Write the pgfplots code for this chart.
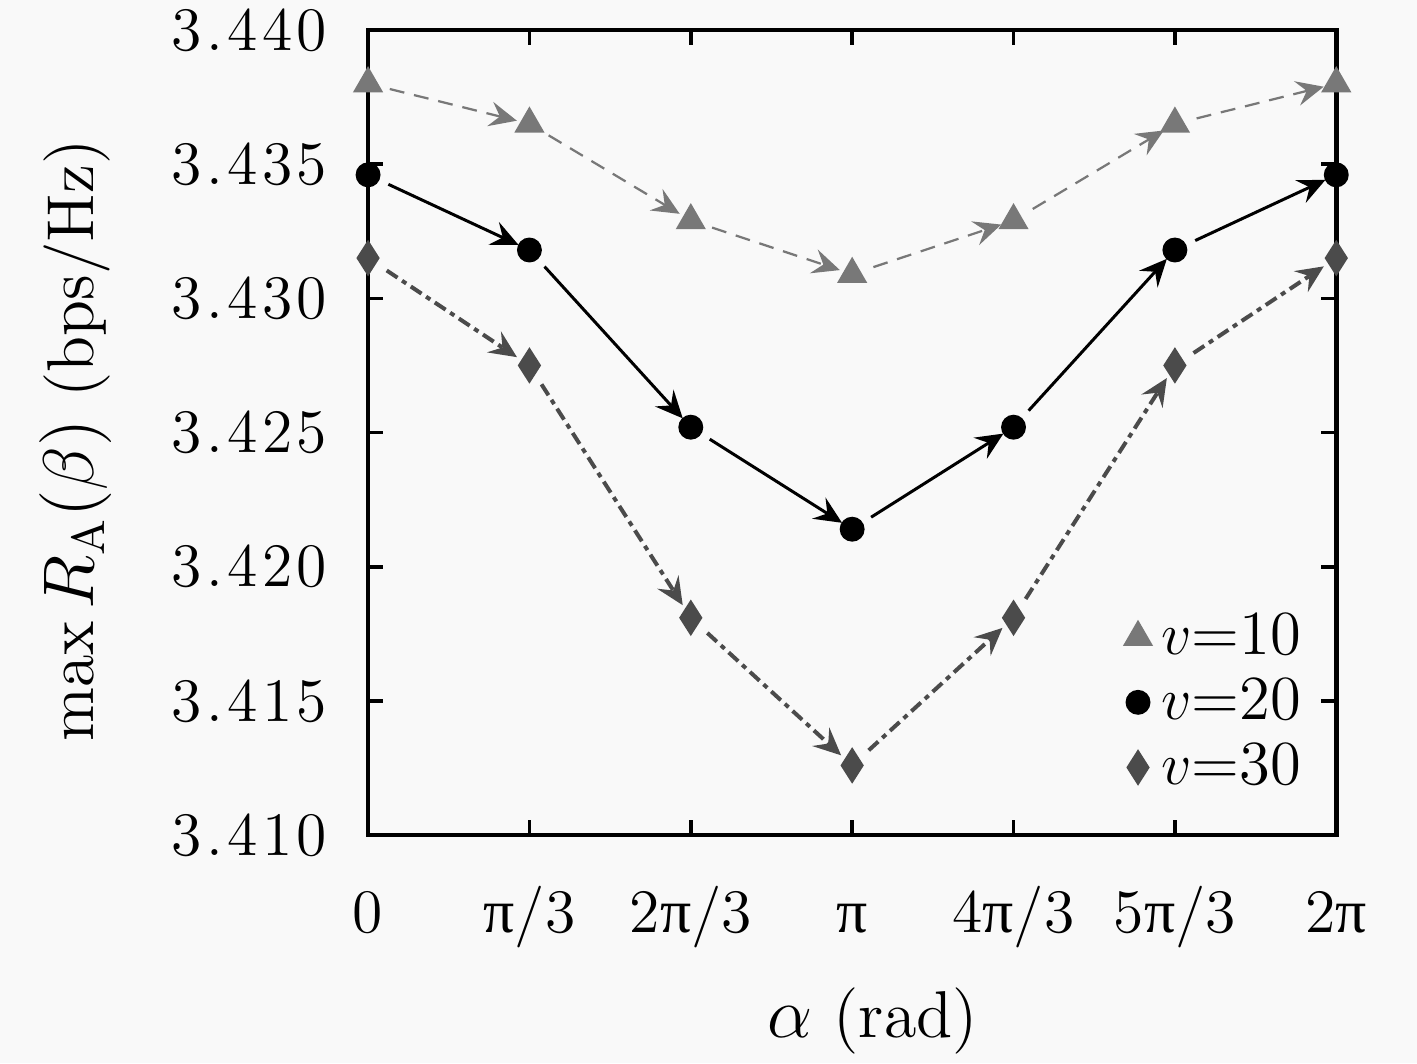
\documentclass[border=0pt]{standalone}
\usepackage{fontspec}
\usepackage{pgfplots}
\pgfplotsset{compat=1.18}
\usepackage{pgfplotstable}
\usetikzlibrary{arrows.meta}
\newfontfamily\pifont{Liberation Serif}
\newfontfamily\spaced[LetterSpace=7]{Latin Modern Roman}
\newcommand{\p}{{\pifont π}}
\definecolor{bg}{RGB}{249,249,249}
\definecolor{cA}{RGB}{120,120,120}
\definecolor{cB}{RGB}{0,0,0}
\definecolor{cC}{RGB}{75,75,75}

\pgfplotstableread{
x y10 y20 y30
0 3.4380 3.4346 3.4315
1 3.4365 3.4318 3.4275
2 3.4329 3.4252 3.4181
3 3.4309 3.4214 3.4126
4 3.4329 3.4252 3.4181
5 3.4365 3.4318 3.4275
6 3.4380 3.4346 3.4315
}\data

\pgfplotstableread{
x y u v
0 3.4380 1 -0.0015
1 3.4365 1 -0.0036
2 3.4329 1 -0.0020
3 3.4309 1 0.0020
4 3.4329 1 0.0036
5 3.4365 1 0.0015
}\qa
\pgfplotstableread{
x y u v
0 3.4346 1 -0.0028
1 3.4318 1 -0.0066
2 3.4252 1 -0.0038
3 3.4214 1 0.0038
4 3.4252 1 0.0066
5 3.4318 1 0.0028
}\qb
\pgfplotstableread{
x y u v
0 3.4315 1 -0.0040
1 3.4275 1 -0.0094
2 3.4181 1 -0.0055
3 3.4126 1 0.0055
4 3.4181 1 0.0094
5 3.4275 1 0.0040
}\qc

\begin{document}
\begin{tikzpicture}
\useasboundingbox[fill=bg] (-73.9pt,-45.8pt) rectangle (210.6pt,167.7pt);
\begin{axis}[
  at={(0,0)}, anchor=south west,
  scale only axis,
  width=194.4pt, height=161.7pt,
  xmin=0, xmax=6, ymin=3.410, ymax=3.440,
  clip=false,
  axis line style={line width=0.9pt},
  tick style={line width=0.7pt, black},
  major tick length=3pt,
  tick align=inside,
  xtick={0,1,2,3,4,5,6},
  xticklabels={0, \p/3, 2\p/3, \p, 4\p/3, 5\p/3, 2\p},
  ytick={3.410,3.415,3.420,3.425,3.430,3.435,3.440},
  yticklabels={{\spaced 3.410},{\spaced 3.415},{\spaced 3.420},{\spaced 3.425},{\spaced 3.430},{\spaced 3.435},{\spaced 3.440}},
  yticklabel style={xshift=-4.7pt},
  every tick label/.append style={font=\fontsize{12.4}{15}\selectfont},
  xticklabel style={yshift=-7.5pt, text height=8.5pt, text depth=2.5pt},
  label style={font=\fontsize{13.3}{16}\selectfont},
  xlabel={$\alpha$ (rad)},
  ylabel={$\mathrm{max}\,R_{\mathrm{A}}(\beta)$ (bps/Hz)},
  xlabel style={at={(axis description cs:0.521,0)}, anchor=north, inner sep=0pt, yshift=-30.5pt},
  ylabel style={at={(axis description cs:-0.302,0.49)}, anchor=center, inner sep=0pt},
  legend style={draw=none, fill=none, at={(0.975,0.04)}, anchor=south east,
    font=\fontsize{12.6}{15}\selectfont, row sep=-0.8pt, inner sep=0pt},
  legend cell align=left,
  legend image code/.code={\draw[#1] plot coordinates {(0.1cm,0cm)};},
]
% arrows
\addplot[forget plot, no marks, cA, line width=0.45pt, dash pattern=on 3pt off 2pt,
  quiver={u=\thisrow{u}, v=\thisrow{v},
    every arrow/.append style={shorten <=4.5pt, shorten >=2.6pt, -{Stealth[length=5.5pt,width=5pt,inset=2pt]}}}]
  table[x=x,y=y] {\qa};
\addplot[forget plot, no marks, cB, line width=0.6pt, solid,
  quiver={u=\thisrow{u}, v=\thisrow{v},
    every arrow/.append style={shorten <=4.5pt, shorten >=2.4pt, -{Stealth[length=5.5pt,width=5pt,inset=2pt]}}}]
  table[x=x,y=y] {\qb};
\addplot[forget plot, no marks, cC, line width=0.8pt, dash pattern=on 2.6pt off 1.1pt on 1pt off 1.1pt,
  quiver={u=\thisrow{u}, v=\thisrow{v},
    every arrow/.append style={shorten <=4.5pt, shorten >=3pt, -{Stealth[length=5.5pt,width=5pt,inset=2pt]}}}]
  table[x=x,y=y] {\qc};
% markers
\addplot[only marks, mark=triangle*, mark size=3.1pt, cA, mark options={fill=cA, draw=cA}] table[x=x,y=y10] {\data};
\addlegendentry{$v$=10}
\addplot[only marks, mark=*, mark size=2.3pt, cB, mark options={fill=cB}] table[x=x,y=y20] {\data};
\addlegendentry{$v$=20}
\addplot[only marks, mark=diamond*, mark size=3.3pt, cC, mark options={fill=cC, draw=cC, xscale=0.85}] table[x=x,y=y30] {\data};
\addlegendentry{$v$=30}
\end{axis}
\end{tikzpicture}
\end{document}
